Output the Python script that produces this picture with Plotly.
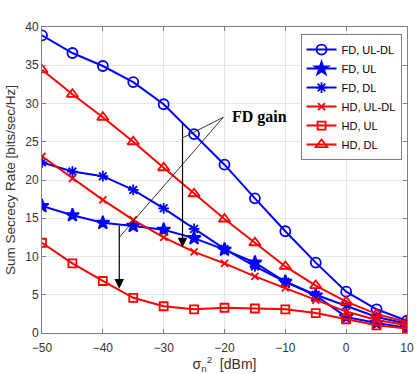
import plotly.graph_objects as go

x_dbm = [-50, -45, -40, -35, -30, -25, -20, -15, -10, -5, 0, 5, 10]

fd_ul_dl = [38.9, 36.6, 34.9, 32.8, 29.9, 26.0, 22.0, 17.6, 13.3, 9.2, 5.4, 3.1, 1.6]
fd_ul = [16.6, 15.4, 14.4, 14.0, 13.5, 12.4, 10.9, 9.2, 6.7, 4.9, 2.1, 1.3, 0.7]
fd_dl = [22.3, 21.1, 20.5, 18.7, 16.3, 13.6, 11.0, 8.7, 6.7, 5.0, 3.6, 2.1, 1.2]
hd_ul_dl = [23.1, 20.2, 17.4, 14.8, 12.5, 10.6, 9.1, 7.4, 5.9, 4.3, 2.8, 1.7, 1.0]
hd_ul = [11.8, 9.1, 6.8, 4.6, 3.5, 3.1, 3.3, 3.2, 3.1, 2.6, 1.8, 1.0, 0.6]
hd_dl = [34.4, 31.2, 28.2, 25.0, 21.6, 18.2, 14.9, 11.8, 8.7, 6.2, 4.1, 2.5, 1.4]

x_ticks = [-50, -40, -30, -20, -10, 0, 10]
y_ticks = [0, 5, 10, 15, 20, 25, 30, 35, 40]

# annotation geometry (data coordinates)
label_pt = (-20.2, 28.2)
arrow1_x, arrow1_top, arrow1_tip, arrow1_join = -26.9, 27.6, 11.2, 25.5
arrow2_x, arrow2_top, arrow2_tip, arrow2_join = -37.3, 14.2, 5.8, 12.5

BLUE = "#0000FF"
RED = "#FF0000"

series = [
    ("FD, UL-DL", fd_ul_dl, BLUE, "circle-open", 10),
    ("FD, UL", fd_ul, BLUE, "star", 10),
    ("FD, DL", fd_dl, BLUE, "asterisk-open", 9),
    ("HD, UL-DL", hd_ul_dl, RED, "x-thin-open", 7),
    ("HD, UL", hd_ul, RED, "square-open", 8),
    ("HD, DL", hd_dl, RED, "triangle-up-open", 10),
]

fig = go.Figure()
for name, ys, col, sym, sz in series:
    fig.add_trace(go.Scatter(
        x=x_dbm, y=ys, name=name, mode="lines+markers",
        line=dict(color=col, width=2),
        marker=dict(symbol=sym, size=sz, color=col, line=dict(color=col, width=1.8)),
    ))

# thin lines from label
for (xj, yj) in [(arrow1_x, arrow1_join), (arrow2_x, arrow2_join)]:
    fig.add_shape(type="line", x0=label_pt[0], y0=label_pt[1], x1=xj, y1=yj,
                  line=dict(color="black", width=0.8))

# vertical arrows
for ax_x, top, tip in [(arrow1_x, arrow1_top, arrow1_tip), (arrow2_x, arrow2_top, arrow2_tip)]:
    fig.add_annotation(x=ax_x, y=tip, ax=ax_x, ay=top, xref="x", yref="y",
                       axref="x", ayref="y", showarrow=True, arrowhead=2,
                       arrowsize=1.6, arrowwidth=1.2, arrowcolor="black", text="")

fig.add_annotation(x=label_pt[0], y=label_pt[1], text="<b>FD gain</b>", showarrow=False,
                   xanchor="left", yanchor="middle", xshift=7,
                   font=dict(family="Liberation Serif", size=16, color="black"))

axis_common = dict(
    showgrid=True, gridcolor="#E6E6E6", gridwidth=1,
    showline=True, linecolor="#808080", linewidth=1, mirror="ticks",
    ticks="inside", ticklen=4, tickcolor="#808080",
    zeroline=False, automargin=False,
    tickfont=dict(family="Liberation Sans", size=12, color="#333333"),
)

fig.update_xaxes(range=[-50, 10], tickvals=x_ticks, ticklabelstandoff=4,
                 title=dict(text="σ<sub>n</sub><sup>2</sup>  [dBm]", standoff=2,
                            font=dict(family="Liberation Sans", size=14, color="#333333")),
                 **axis_common)
fig.update_yaxes(range=[0, 40], tickvals=y_ticks,
                 title=dict(text="Sum Secrecy Rate [bits/sec/Hz]", standoff=6,
                            font=dict(family="Liberation Sans", size=13.5, color="#333333")),
                 **axis_common)

fig.update_layout(
    width=416, height=374,
    margin=dict(l=42, r=9, t=27, b=41),
    paper_bgcolor="white", plot_bgcolor="white",
    showlegend=True,
    legend=dict(x=0.985, y=0.977, xanchor="right", yanchor="top",
                bgcolor="white", bordercolor="#808080", borderwidth=1,
                font=dict(family="Liberation Sans", size=11, color="black"),
                tracegroupgap=0, itemwidth=30),
)

fig.write_html(
    "out.html",
    config={"displayModeBar": False},
    post_script="document.body.style.margin='0';document.body.style.overflow='hidden';",
)
